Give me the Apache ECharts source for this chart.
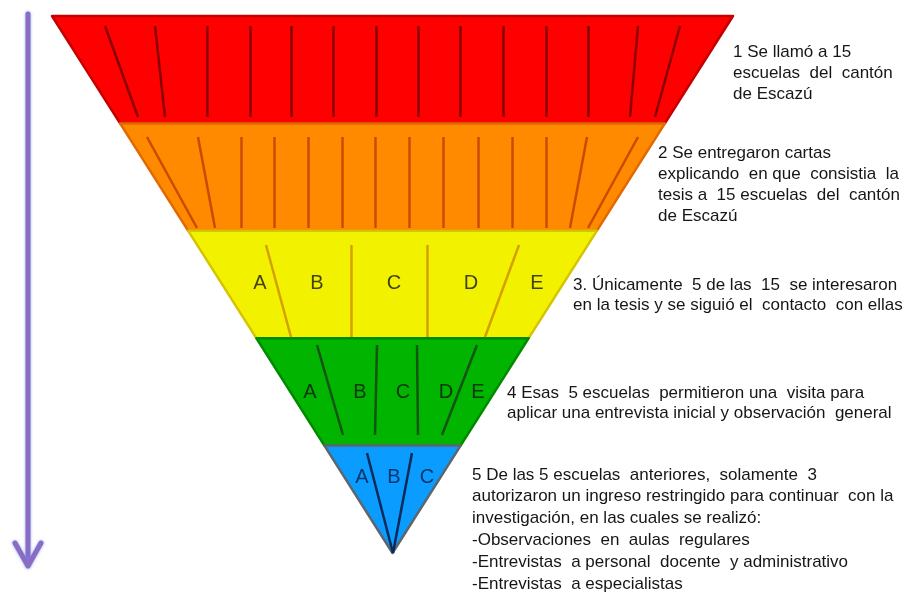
<!DOCTYPE html>
<html><head><meta charset="utf-8">
<script src="https://cdn.jsdelivr.net/npm/echarts@6/dist/echarts.min.js"></script>
<style>html,body{margin:0;padding:0;background:#fff}#c{width:909px;height:592px}</style>
</head><body><div id="c"></div>
<script>
// ---- data ----
const stages = ['1', '2', '3', '4', '5'];
const stageValues = [5, 4, 3, 2, 1];            // relative widths of the inverted pyramid
const stageColors = ['#ff0000', '#ff8a00', '#f2f200', '#00b400', '#0a9cff'];
const stageBorders = ['#c40000', '#e26800', '#d6c400', '#008a00', '#5c6670'];
const dividerColors = ['#8a0000', '#cc4a00', '#d4a000', '#145414', '#0a2a5a'];

// divider segments per band: [x at top, x at bottom]
const dividerY = [[26, 117], [137, 228], [245, 337], [345, 435], [453, 553]];
const redDividers = [[105,138],[155,165],[207,207],[250,250],[291,291],[333,333],[376,376],[418,418],[460,460],[503,503],[546,546],[588,588],[638,630],[680,655]];
const orangeDividers = [[147,197],[198,215],[241,241],[274,274],[308,308],[342,342],[375,375],[409,409],[443,443],[478,478],[512,512],[546,546],[587,570],[638,588]];
const yellowDividers = [[266,291],[351,351],[427,427],[519,485]];
const greenDividers = [[317,343],[377,375],[417,418],[477,442]];
const blueDividers = [[367,393],[412,393]];

const yellowLetters = ['A', 'B', 'C', 'D', 'E'];
const yellowLetterX = [260, 317, 394, 471, 537];
const greenLetters = ['A', 'B', 'C', 'D', 'E'];
const greenLetterX = [310, 360, 403, 446, 478];
const blueLetters = ['A', 'B', 'C'];
const blueLetterX = [362, 394, 427];
const letterRowY = [283, 392, 477];

const note1 = ['1 Se llamó a 15', 'escuelas  del  cantón', 'de Escazú'];
const note2 = ['2 Se entregaron cartas', 'explicando  en que  consistia  la', 'tesis a  15 escuelas  del  cantón', 'de Escazú'];
const note3 = ['3. Únicamente  5 de las  15  se interesaron', 'en la tesis y se siguió el  contacto  con ellas'];
const note4 = ['4 Esas  5 escuelas  permitieron una  visita para', 'aplicar una entrevista inicial y observación  general'];
const note5 = ['5 De las 5 escuelas  anteriores,  solamente  3',
  'autorizaron un ingreso restringido para continuar  con la',
  'investigación, en las cuales se realizó:',
  '-Observaciones  en  aulas  regulares',
  '-Entrevistas  a personal  docente  y administrativo',
  '-Entrevistas  a especialistas'];

// ---- build ----
const chart = echarts.init(document.getElementById('c'), null, {renderer: 'canvas'});

const dividerSets = [redDividers, orangeDividers, yellowDividers, greenDividers, blueDividers];
const dividerData = [];
dividerSets.forEach((set, b) => {
  set.forEach(d => {
    dividerData.push({
      coords: [[d[0], dividerY[b][0]], [d[1], dividerY[b][1]]],
      lineStyle: {color: dividerColors[b], width: 2.5, opacity: 1}
    });
  });
});

function letterData(letters, xs, y) {
  return letters.map((l, i) => [xs[i], y, l]);
}

const textFont = '"Liberation Sans", Arial, sans-serif';
const graphics = [];
function addNote(lines, x, y0, step) {
  lines.forEach((t, i) => {
    graphics.push({
      type: 'text', x: x, y: y0 + i * step,
      style: {text: t, fill: '#161616', font: '17px ' + textFont, textVerticalAlign: 'middle', textAlign: 'left'},
      silent: true, z: 10
    });
  });
}
addNote(note1, 733, 52, 21);
addNote(note2, 658, 153, 21);
addNote(note3, 573, 285, 20.5);
addNote(note4, 507, 393, 20.5);
addNote(note5, 472, 475, 21.8);

chart.setOption({
  animation: false,
  grid: {left: 0, right: 0, top: 0, bottom: 0, containLabel: false},
  xAxis: {type: 'value', min: 0, max: 909, show: false},
  yAxis: {type: 'value', min: 0, max: 592, inverse: true, show: false},
  graphic: graphics,
  series: [
    {
      type: 'funnel', left: 52, top: 16, width: 681, height: 537,
      min: 0, max: 5, minSize: '0%', maxSize: '100%', sort: 'none', gap: 0,
      silent: true, z: 1,
      label: {show: false}, labelLine: {show: false},
      emphasis: {disabled: true},
      data: stages.map((s, i) => ({
        name: s, value: stageValues[i],
        itemStyle: {color: stageColors[i], borderColor: stageBorders[i], borderWidth: 2.5}
      }))
    },
    {
      type: 'lines', coordinateSystem: 'cartesian2d', z: 3, silent: true,
      lineStyle: {opacity: 1},
      data: dividerData
    },
    {
      type: 'lines', coordinateSystem: 'cartesian2d', polyline: true, z: 3, silent: true,
      lineStyle: {color: '#8a6cc2', width: 5, opacity: 1, shadowColor: 'rgba(110,150,255,0.8)', shadowBlur: 3, cap: 'round', join: 'round'},
      data: [
        {coords: [[28, 14], [28, 565]]},
        {coords: [[15, 543], [28, 566], [41, 543]]}
      ]
    },
    {
      type: 'scatter', z: 5, silent: true, symbolSize: 1, itemStyle: {color: 'rgba(0,0,0,0)'},
      label: {show: true, position: 'inside', formatter: p => p.value[2], fontSize: 20, color: '#141414', fontFamily: textFont},
      data: letterData(yellowLetters, yellowLetterX, letterRowY[0]).concat(letterData(greenLetters, greenLetterX, letterRowY[1]))
    },
    {
      type: 'scatter', z: 5, silent: true, symbolSize: 1, itemStyle: {color: 'rgba(0,0,0,0)'},
      label: {show: true, position: 'inside', formatter: p => p.value[2], fontSize: 20, color: '#0a1a4a', fontFamily: textFont},
      data: letterData(blueLetters, blueLetterX, letterRowY[2])
    }
  ]
});
</script></body></html>
